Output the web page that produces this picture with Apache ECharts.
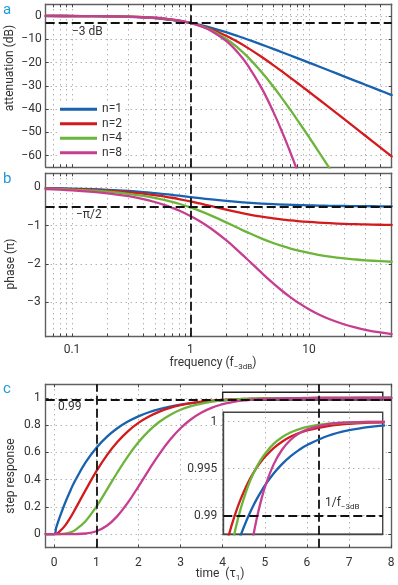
<!DOCTYPE html>
<html><head><meta charset="utf-8">
<script src="https://cdn.jsdelivr.net/npm/echarts@6/dist/echarts.min.js"></script>
<style>html,body{margin:0;padding:0;background:#fff}#c{width:398px;height:585px}</style>
</head><body><div id="c"></div>
<script>
// ---------- data ----------
const orderNames = ['n=1', 'n=2', 'n=4', 'n=8'];
const freq = [0.06,0.1,0.15,0.2,0.3,0.4,0.5,0.6,0.7,0.8,1,1.2,1.5,2,2.5,3,4,5,6,7,8,10,12,15,20,25,30,40,50];
const attN1 = [-0.016,-0.043,-0.097,-0.170,-0.374,-0.645,-0.969,-1.335,-1.732,-2.148,-3.010,-3.874,-5.119,-6.990,-8.603,-10.000,-12.304,-14.150,-15.682,-16.990,-18.129,-20.043,-21.614,-23.541,-26.031,-27.966,-29.547,-32.044,-33.981];
const attN2 = [-0.013,-0.036,-0.081,-0.143,-0.318,-0.557,-0.856,-1.207,-1.605,-2.042,-3.010,-4.063,-5.720,-8.487,-11.099,-13.493,-17.648,-21.104,-24.034,-26.566,-28.790,-32.552,-35.656,-39.481,-44.438,-48.296,-51.453,-56.440,-60.312];
const attN4 = [-0.012,-0.033,-0.074,-0.131,-0.293,-0.518,-0.803,-1.145,-1.540,-1.986,-3.010,-4.186,-6.161,-9.789,-13.558,-17.273,-24.201,-30.327,-35.709,-40.465,-44.703,-51.972,-58.038,-65.568];
const attN8 = [-0.011,-0.031,-0.071,-0.126,-0.282,-0.500,-0.777,-1.114,-1.508,-1.956,-3.010,-4.256,-6.440,-10.735,-15.576,-20.702,-31.107,-41.086,-50.339,-58.815,-66.562];
const phaseN1 = [-0.019,-0.032,-0.047,-0.063,-0.093,-0.121,-0.148,-0.172,-0.194,-0.215,-0.250,-0.279,-0.313,-0.352,-0.379,-0.398,-0.422,-0.437,-0.447,-0.455,-0.460,-0.468,-0.474,-0.479,-0.484,-0.487,-0.489,-0.492,-0.494];
const phaseN2 = [-0.025,-0.041,-0.061,-0.081,-0.121,-0.160,-0.198,-0.235,-0.269,-0.303,-0.364,-0.419,-0.489,-0.580,-0.646,-0.696,-0.764,-0.808,-0.839,-0.861,-0.878,-0.902,-0.918,-0.934,-0.951,-0.960,-0.967,-0.975,-0.980];
const phaseN4 = [-0.033,-0.055,-0.083,-0.110,-0.165,-0.219,-0.273,-0.325,-0.376,-0.426,-0.522,-0.613,-0.736,-0.912,-1.053,-1.167,-1.336,-1.451,-1.534,-1.596,-1.644,-1.712,-1.759,-1.806,-1.854,-1.883,-1.903,-1.927,-1.941];
const phaseN8 = [-0.046,-0.077,-0.115,-0.153,-0.229,-0.305,-0.380,-0.455,-0.529,-0.601,-0.744,-0.882,-1.079,-1.379,-1.642,-1.870,-2.234,-2.506,-2.712,-2.871,-2.997,-3.183,-3.312,-3.445,-3.581,-3.663,-3.719,-3.789,-3.831];
const time = [-0.2,0,0.05,0.1,0.25,0.4,0.5,0.75,1,1.25,1.5,1.75,2,2.25,2.5,2.75,3,3.25,3.5,3.75,4,4.1,4.2,4.3,4.4,4.5,4.6,4.7,4.8,4.9,5,5.2,5.4,5.6,5.8,6,6.5,7,7.5,8];
const stepN1 = [0,0,0.0488,0.0952,0.2212,0.3297,0.3935,0.5276,0.6321,0.7135,0.7769,0.8262,0.8647,0.8946,0.9179,0.9361,0.9502,0.9612,0.9698,0.9765,0.98168,0.98343,0.98500,0.98643,0.98772,0.98889,0.98995,0.99091,0.99177,0.99255,0.99326,0.99448,0.99548,0.99630,0.99697,0.99752,0.99850,0.99909,0.99945,0.99966];
const stepN2 = [0,0,0.0029,0.0109,0.0585,0.1290,0.1829,0.3248,0.4600,0.5781,0.6762,0.7548,0.8164,0.8637,0.8996,0.9265,0.9465,0.9612,0.9720,0.9799,0.98558,0.98739,0.98897,0.99037,0.99159,0.99265,0.99359,0.99441,0.99512,0.99575,0.99629,0.99719,0.99787,0.99839,0.99878,0.99908,0.99954,0.99978,0.99989,0.99995];
const stepN4 = [0,0,0.0000,0.0001,0.0029,0.0144,0.0296,0.0968,0.2004,0.3245,0.4522,0.5710,0.6739,0.7584,0.8248,0.8753,0.9127,0.9397,0.9589,0.9723,0.98153,0.98433,0.98672,0.98876,0.99050,0.99196,0.99324,0.99431,0.99521,0.99598,0.99662,0.99763,0.99834,0.99884,0.99919,0.99945,0.99978,0.99991,0.99997,0.99999];
const stepN8 = [0,0,0.0000,0.0000,0.0000,0.0001,0.0003,0.0042,0.0205,0.0609,0.1319,0.2312,0.3490,0.4723,0.5894,0.6923,0.7772,0.8436,0.8932,0.9289,0.95377,0.96129,0.96769,0.97312,0.97769,0.98156,0.98479,0.98748,0.98973,0.99159,0.99313,0.99545,0.99701,0.99805,0.99874,0.99919,0.99974,0.99992,0.99998,0.99999];

// tick labels / reference levels
const attTicks = [-60,-50,-40,-30,-20,-10,0];
const phaseTicks = [-3,-2,-1,0];
const freqLabelTicks = [0.1,1,10];
const freqGridTicks = [0.07,0.08,0.09,0.1,0.2,0.3,0.4,0.5,0.6,0.7,0.8,0.9,1,2,3,4,5,6,7,8,9,10,20,30,40];
const stepTicks = [0,0.2,0.4,0.6,0.8,1];
const timeTicks = [0,1,2,3,4,5,6,7,8];
const insetTimeTicks = [5,6,7];
const insetTicks = [0.99,0.995,1];
const refDb = -3, refPhase = -0.5, refFreq = 1, refSettle = 0.99, refT1 = 1, refInvF = 6.283;

// ---------- styling ----------
const COLORS = ['#1862b0','#d31a1c','#6cb53a','#c73e91'];
const FONT = 'Roboto';
const frameColor = '#606060';
const fmt = v => String(+(+v).toPrecision(6)).replace('-', '\u2212');
const dotted = { show: true, lineStyle: { color: '#8f8f8f', type: [1, 4], width: 1 } };
const refLine = { color: '#111', width: 1.8, type: [9, 4] };

function xAx(grid, type, min, max, pos) {
  return {
    type, gridIndex: grid, min, max, position: pos,
    axisLine: { show: true, onZero: false, lineStyle: { color: frameColor, width: 1.4 } },
    axisTick: { show: true, inside: true, length: 3, lineStyle: { color: '#444' } },
    axisLabel: { show: false, color: '#333', fontFamily: FONT, fontSize: 12 },
    splitLine: { show: false }
  };
}
const mergeDeep = (a, b) => { for (const k in b) { if (b[k] && typeof b[k] === 'object' && !Array.isArray(b[k]) && a[k]) mergeDeep(a[k], b[k]); else a[k] = b[k]; } return a; };
function ax(grid, type, min, max, pos, opts) { return mergeDeep(xAx(grid, type, min, max, pos), opts || {}); }

const xAxis = [
  ax(0, 'log', 0.06, 50, 'bottom', { axisTick: { customValues: freqGridTicks }, splitLine: dotted }),
  ax(0, 'log', 0.06, 50, 'top', { axisTick: { customValues: freqGridTicks } }),
  ax(1, 'log', 0.06, 50, 'bottom', { axisTick: { customValues: freqGridTicks }, splitLine: dotted,
      axisLabel: { show: true, customValues: freqLabelTicks, formatter: fmt, margin: 7 } }),
  ax(1, 'log', 0.06, 50, 'top', { axisTick: { customValues: freqGridTicks } }),
  ax(2, 'value', -0.2, 8, 'bottom', { axisTick: { customValues: timeTicks }, splitLine: dotted,
      axisLabel: { show: true, customValues: timeTicks, formatter: fmt, margin: 9 } }),
  ax(2, 'value', -0.2, 8, 'top', { axisTick: { customValues: timeTicks } }),
  ax(3, 'value', 4, 7.8, 'bottom', { z: 4, axisLine: { lineStyle: { color: '#444' } }, axisTick: { show: false, customValues: insetTimeTicks }, splitLine: dotted })
];
const yAxis = [
  ax(0, 'value', -65, 5, 'left', { axisTick: { customValues: attTicks }, splitLine: dotted,
      axisLabel: { show: true, customValues: attTicks, formatter: fmt, margin: 4 } }),
  ax(0, 'value', -65, 5, 'right', { axisTick: { customValues: attTicks } }),
  ax(1, 'value', -3.9, 0.37, 'left', { axisTick: { customValues: phaseTicks }, splitLine: dotted,
      axisLabel: { show: true, customValues: phaseTicks, formatter: fmt, margin: 5 } }),
  ax(1, 'value', -3.9, 0.37, 'right', { axisTick: { customValues: phaseTicks } }),
  ax(2, 'value', -0.1, 1.1, 'left', { axisTick: { customValues: stepTicks }, splitLine: dotted,
      axisLabel: { show: true, customValues: stepTicks, formatter: fmt, margin: 5 } }),
  ax(2, 'value', -0.1, 1.1, 'right', { axisTick: { customValues: stepTicks } }),
  ax(3, 'value', 0.988, 1.001, 'left', { z: 4, axisLine: { lineStyle: { color: '#444' } }, axisTick: { show: false, customValues: insetTicks }, splitLine: dotted,
      axisLabel: { show: true, customValues: insetTicks, formatter: fmt, margin: 6 } })
];

function line(idx, xs, ys, xi, yi, extra) {
  const c = COLORS[idx];
  return Object.assign({
    type: 'line', name: orderNames[idx], xAxisIndex: xi, yAxisIndex: yi,
    data: ys.map((y, i) => [xs[i], y]), symbol: 'none', showSymbol: false,
    smooth: 0.4, clip: true, silent: true, animation: false,
    lineStyle: { color: c, width: 2.3, cap: 'round', join: 'round' }, itemStyle: { color: c }
  }, extra || {});
}
const mk = (data) => ({ silent: true, symbol: ['none', 'none'], label: { show: false }, lineStyle: refLine, animation: false, data });

const attSets = [attN1, attN2, attN4, attN8];
const phaseSets = [phaseN1, phaseN2, phaseN4, phaseN8];
const stepSets = [stepN1, stepN2, stepN4, stepN8];
const series = [];
attSets.forEach((d, i) => series.push(line(i, freq, d, 0, 0, i === 0 ? { markLine: mk([{ yAxis: refDb }, { xAxis: refFreq }]) } : {})));
phaseSets.forEach((d, i) => series.push(line(i, freq, d, 2, 2, i === 0 ? { markLine: mk([{ yAxis: refPhase }, { xAxis: refFreq }]) } : {})));
stepSets.forEach((d, i) => series.push(line(i, time, d, 4, 4, i === 0 ? {
  markLine: mk([{ yAxis: refSettle }, { xAxis: refT1 }, { xAxis: refInvF }]),
  markArea: { silent: true, itemStyle: { color: 'rgba(0,0,0,0)', borderColor: '#222', borderWidth: 1.4 },
    data: [[{ xAxis: 4, yAxis: 0.985 }, { xAxis: 7.8, yAxis: 1.042 }]] }
} : {})));
stepSets.forEach((d, i) => series.push(line(i, time, d, 6, 6, Object.assign({ z: 6 }, i === 0 ? { markLine: Object.assign(mk([{ yAxis: refSettle }]), { z: 7 }) } : {}))));

const txt = (x, y, text, extra) => Object.assign({ type: 'text', x, y, z: 100, silent: true,
  style: Object.assign({ text, fill: '#333', font: `12px ${FONT}`, align: 'left', verticalAlign: 'middle' }, extra || {}) });
const subRich = { sub: { fontSize: 8, fontFamily: FONT, fill: '#333', verticalAlign: 'bottom', lineHeight: 16 } };

const graphic = [
  txt(3, 10, 'a', { fill: '#1e9ad8', font: `15px ${FONT}` }),
  txt(3, 179, 'b', { fill: '#1e9ad8', font: `15px ${FONT}` }),
  txt(3, 389, 'c', { fill: '#1e9ad8', font: `15px ${FONT}` }),
  txt(72, 32, '\u22123 dB'),
  txt(76, 215, '\u2212\u03c0/2'),
  txt(58, 407, '0.99'),
  txt(325, 503, '1/f{sub|\u22123dB}'),
  Object.assign(txt(10, 68, 'attenuation (dB)', { align: 'center' }), { rotation: Math.PI / 2 }),
  Object.assign(txt(11, 264, 'phase (\u03c0)', { align: 'center' }), { rotation: Math.PI / 2 }),
  Object.assign(txt(11, 476, 'step response', { align: 'center' }), { rotation: Math.PI / 2 }),
  txt(213, 363, 'frequency (f{sub|\u22123dB})', { align: 'center' }),
  txt(220, 574, 'time  (\u03c4{sub|1})', { align: 'center' })
];
graphic.forEach(g => { if (/\{sub\|/.test(g.style.text)) g.style.rich = subRich; });

const chart = echarts.init(document.getElementById('c'), null, { renderer: 'canvas' });
chart.setOption({
  animation: false,
  backgroundColor: '#fff',
  textStyle: { fontFamily: FONT },
  grid: [
    { left: 45.7, top: 4.3, width: 346, height: 163, outerBoundsMode: 'none' },
    { left: 45.7, top: 173.3, width: 346, height: 163.4, outerBoundsMode: 'none' },
    { left: 45.7, top: 384.3, width: 345.5, height: 163.4, outerBoundsMode: 'none' },
    { left: 223.3, top: 412.3, width: 159.4, height: 122, outerBoundsMode: 'none', show: true, z: 3,
      backgroundColor: '#fff', borderColor: '#444', borderWidth: 1.4 }
  ],
  legend: {
    data: orderNames, orient: 'vertical', left: 57, top: 101, icon: 'rect',
    itemWidth: 37, itemHeight: 3, itemGap: 2, padding: [2, 3], backgroundColor: '#fff',
    textStyle: { fontFamily: FONT, fontSize: 12, color: '#333', lineHeight: 12.5 }, selectedMode: false
  },
  xAxis, yAxis, series, graphic
});
</script></body></html>
